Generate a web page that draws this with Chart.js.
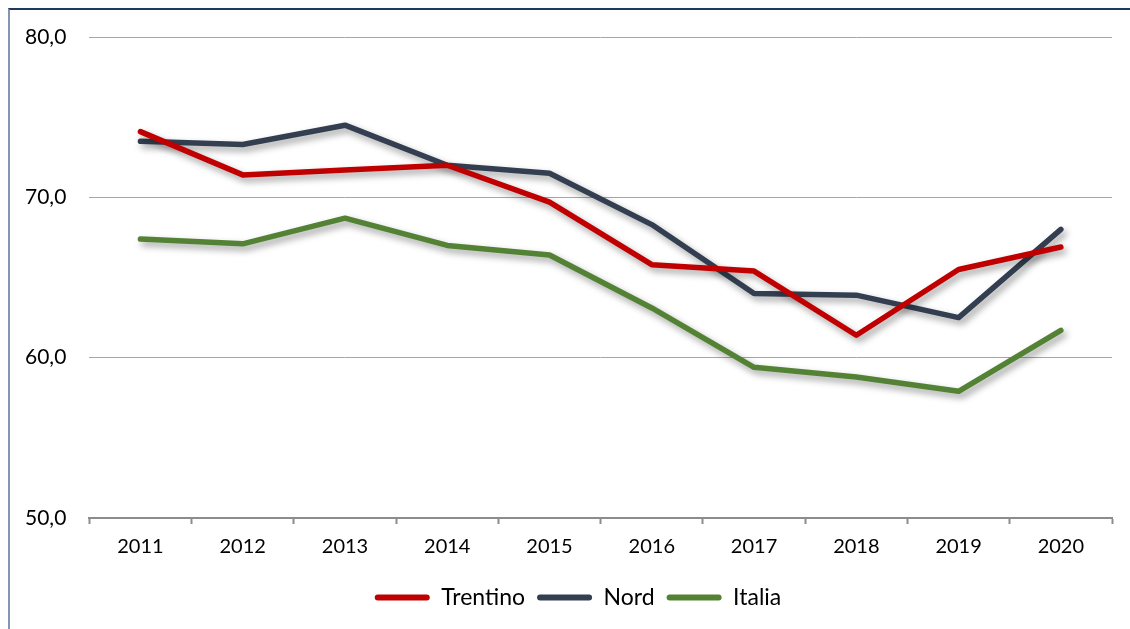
<!DOCTYPE html>
<html>
<head>
<meta charset="utf-8">
<script src="https://cdn.jsdelivr.net/npm/chart.js@4"></script>
<style>
  html, body { margin: 0; padding: 0; background: #fff; }
  #wrap { position: relative; width: 1130px; height: 629px; overflow: hidden; }
  #frame { position: absolute; left: 8px; top: 8px; right: -2px; bottom: -2px;
           border-left: 2px solid #8497b0; border-top: 2px solid #1f3864; }
  canvas { position: absolute; left: 0; top: 0; }
</style>
</head>
<body>
<div id="wrap">
  <div id="frame"></div>
  <canvas id="chart" width="1130" height="629"></canvas>
</div>
<script>
const years = ['2011', '2012', '2013', '2014', '2015', '2016', '2017', '2018', '2019', '2020'];
const trentino = [74.1, 71.4, 71.7, 72.0, 69.7, 65.8, 65.4, 61.4, 65.5, 66.9];
const nord = [73.5, 73.3, 74.5, 72.0, 71.5, 68.3, 64.0, 63.9, 62.5, 68.0];
const italia = [67.4, 67.1, 68.7, 67.0, 66.4, 63.1, 59.4, 58.8, 57.9, 61.7];
const yTicks = [50, 60, 70, 80];

// soft drop shadow under each line, like the office chart
const lineShadow = {
    id: 'lineShadow',
    beforeDatasetDraw(chart) {
        const c = chart.ctx;
        c.save();
        c.shadowColor = 'rgba(0,0,0,0.38)';
        c.shadowBlur = 7;
        c.shadowOffsetX = 3;
        c.shadowOffsetY = 4;
    },
    afterDatasetDraw(chart) {
        chart.ctx.restore();
    }
};

// nudge the legend a bit to the right (it is centred on the plot, not the canvas)
const legendShift = {
    id: 'legendShift',
    afterLayout(chart) {
        if (chart.legend) chart.legend.left += 42;
    }
};

const mkSet = (label, data, color) => ({
    label: label,
    data: data,
    borderColor: color,
    backgroundColor: color,
    borderWidth: 5.5,
    borderCapStyle: 'round',
    borderJoinStyle: 'round',
    pointRadius: 0,
    fill: false,
    tension: 0
});

const ctx = document.getElementById('chart').getContext('2d');
const chart = new Chart(ctx, {
    type: 'line',
    data: {
        labels: years,
        datasets: [
            mkSet('Trentino', trentino, '#c00000'),
            mkSet('Nord', nord, '#333f50'),
            mkSet('Italia', italia, '#548235')
        ]
    },
    plugins: [lineShadow, legendShift],
    options: {
        responsive: false,
        animation: false,
        layout: { padding: { left: 2, right: 18, top: 37, bottom: 10 } },
        plugins: {
            tooltip: { enabled: false },
            legend: {
                position: 'bottom',
                labels: {
                    color: '#000',
                    font: { family: 'Lato', size: 23 },
                    boxWidth: 55,
                    boxHeight: 6,
                    padding: 12,
                    generateLabels(chart) {
                        return chart.data.datasets.map((ds, i) => ({
                            text: ds.label,
                            fillStyle: ds.borderColor,
                            strokeStyle: ds.borderColor,
                            lineWidth: 0,
                            borderRadius: 3,
                            datasetIndex: i
                        }));
                    }
                }
            }
        },
        scales: {
            x: {
                offset: true,
                border: { display: true, color: '#8c8c8c', width: 2 },
                grid: { offset: true, drawOnChartArea: false, drawTicks: true, tickLength: 6, tickColor: '#8c8c8c', tickWidth: 2 },
                ticks: { color: '#000', font: { family: 'Lato', size: 20 }, padding: 11 },
                afterFit(axis) { axis.height += 4; }
            },
            y: {
                min: 50,
                max: 80,
                border: { display: false },
                grid: { color: '#a6a6a6', lineWidth: 1, drawTicks: false },
                afterBuildTicks(axis) {
                    axis.ticks = yTicks.map(v => ({ value: v }));
                },
                ticks: {
                    color: '#000',
                    font: { family: 'Lato', size: 21 },
                    padding: 23,
                    callback: v => v.toFixed(1).replace('.', ',')
                }
            }
        }
    }
});
</script>
</body>
</html>
